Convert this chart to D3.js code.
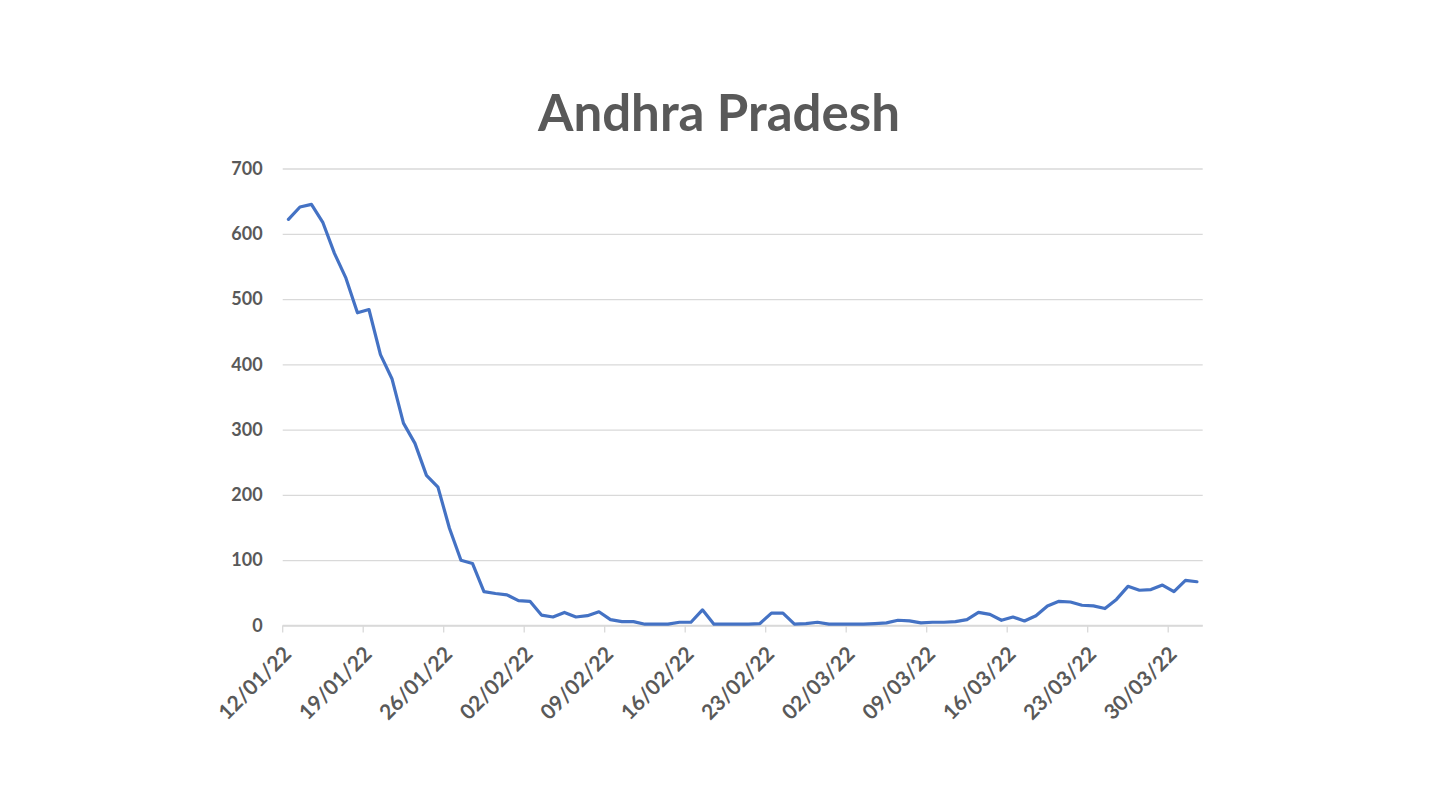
<!DOCTYPE html>
<html>
<head>
<meta charset="utf-8">
<script src="https://cdn.jsdelivr.net/npm/d3@7"></script>
<style>
  html, body { margin: 0; padding: 0; background: #fff; }
  svg { display: block; }
</style>
</head>
<body>
<svg id="chart" width="1442" height="811"></svg>
<script>
// ---- data ----
const title = "Andhra Pradesh";
const startDate = "2022-01-12";
const cases = [
  622, 641, 645, 617, 570, 532, 479, 484, 415, 378,
  310, 279, 230, 212, 149, 100, 95, 52, 49, 47,
  38, 37, 16, 13, 20, 13, 15, 21, 9, 6,
  6, 2, 2, 2, 5, 5, 24, 2, 2, 2,
  2, 3, 19, 19, 2, 3, 5, 2, 2, 2,
  2, 3, 4, 8, 7, 4, 5, 5, 6, 9,
  20, 17, 8, 13, 7, 15, 30, 37, 36, 31,
  30, 26, 40, 60, 54, 55, 62, 52, 69, 67
];
const yTicks = [0, 100, 200, 300, 400, 500, 600, 700];
const xTickLabels = ["12/01/22", "19/01/22", "26/01/22", "02/02/22", "09/02/22", "16/02/22",
  "23/02/22", "02/03/22", "09/03/22", "16/03/22", "23/03/22", "30/03/22"];

// ---- chart ----
(function () {
const parse = d3.timeParse("%Y-%m-%d");
const fmt = d3.timeFormat("%d/%m/%y");
const start = parse(startDate);
const dates = cases.map((_, i) => d3.timeDay.offset(start, i));
const data = dates.map((d, i) => ({ date: d, key: fmt(d), value: cases[i] }));

const svg = d3.select("#chart");
const pLeft = 282.7, pRight = 1202.7, pTop = 168.5, pBottom = 625.5;
const textColor = "#595959";
const gridColor = "#d9d9d9";
const font = "Lato, 'Open Sans', sans-serif";

const x = d3.scaleBand().domain(data.map(d => d.key)).range([pLeft, pRight]).padding(0);
const y = d3.scaleLinear().domain([0, 700]).range([pBottom, pTop]);

// title
svg.append("text")
  .attr("x", 719).attr("y", 131)
  .attr("text-anchor", "middle")
  .attr("font-family", font).attr("font-weight", "bold")
  .attr("font-size", 51).attr("fill", textColor)
  .text(title);

// gridlines + y labels
const yAxis = d3.axisLeft(y).tickValues(yTicks).tickSize(-(pRight - pLeft)).tickPadding(20);
const gy = svg.append("g").attr("transform", `translate(${pLeft},0)`).call(yAxis);
gy.select(".domain").remove();
gy.selectAll(".tick line").attr("stroke", gridColor).attr("stroke-width", 1.3);
gy.selectAll(".tick text")
  .attr("font-family", font).attr("font-weight", "bold")
  .attr("font-size", 18).attr("fill", textColor);

// x axis
const xAxis = d3.axisBottom(x).tickValues(xTickLabels).tickSize(7).tickFormat(d => d);
const gx = svg.append("g").attr("transform", `translate(0,${pBottom})`).call(xAxis);
gx.select(".domain").attr("stroke", gridColor).attr("stroke-width", 1.3)
  .attr("d", `M${pLeft},0H${pRight}`);
gx.selectAll(".tick").attr("transform", d => `translate(${x(d)},0)`);
gx.selectAll(".tick line").attr("stroke", gridColor).attr("stroke-width", 1.3);
gx.selectAll(".tick text")
  .attr("font-family", font).attr("font-weight", "bold")
  .attr("font-size", 21).attr("fill", textColor)
  .attr("text-anchor", "end")
  .attr("dy", null)
  .attr("y", 0)
  .attr("transform", "translate(10,30) rotate(-45)");

// line
const line = d3.line()
  .x(d => x(d.key) + x.bandwidth() / 2)
  .y(d => y(d.value));
svg.append("path")
  .datum(data)
  .attr("fill", "none")
  .attr("stroke", "#4472c4")
  .attr("stroke-width", 3.2)
  .attr("stroke-linejoin", "round")
  .attr("stroke-linecap", "round")
  .attr("d", line);
})();
</script>
</body>
</html>
